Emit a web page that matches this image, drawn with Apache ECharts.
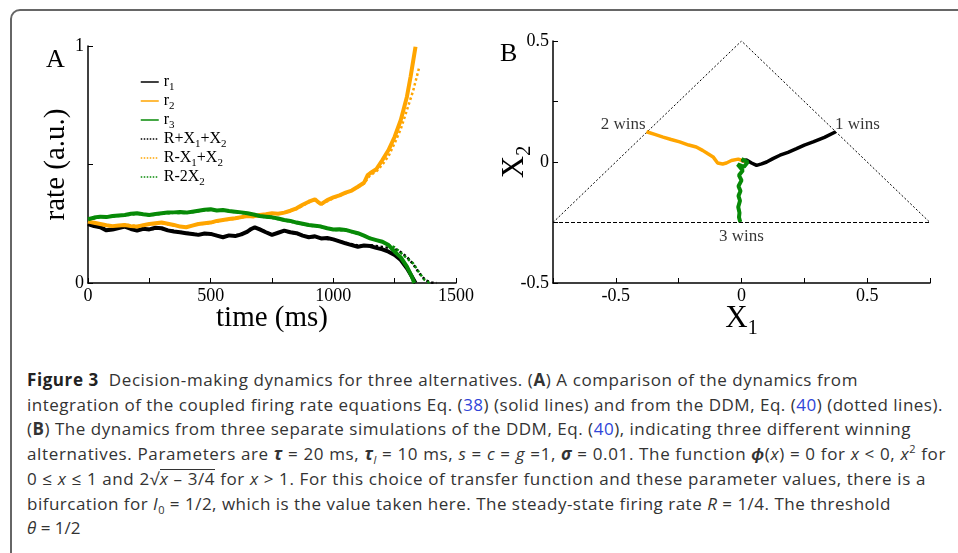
<!DOCTYPE html>
<html lang="en">
<head>
<meta charset="utf-8">
<title>Figure 3</title>
<script src="https://cdn.jsdelivr.net/npm/echarts@6/dist/echarts.min.js"></script>
<style>
  html, body { margin: 0; padding: 0; background: #fff; }
  body { width: 958px; height: 553px; position: relative; overflow: hidden; }
  .card { position: absolute; left: 10px; top: 9px; width: 1000px; height: 600px;
          border: 2px solid #666; border-radius: 10px; box-sizing: border-box; }
  #main { position: absolute; left: 0; top: 0; width: 958px; height: 365px; }
  .caption { position: absolute; left: 27px; top: 368px; font-family: "Open Sans", sans-serif;
             font-size: 17px; line-height: 24.7px; color: #333; }
  .cap-line { display: inline-block; white-space: nowrap; }
  .caption a { color: #2f45d8; text-decoration: none; }
  .caption b.fig { font-weight: 700; color: #222; }
  .caption sub, .caption sup { font-size: 11px; line-height: 0; }
  .sqrt { display: inline-block; line-height: 15px; border-top: 1.3px solid #333; padding-top: 1px; }
</style>
</head>
<body>
<div class="card"></div>
<div id="main"></div>
<div class="caption">
  <span class="cap-line"><b class="fig">Figure 3</b>&nbsp; Decision-making dynamics for three alternatives. (<b>A</b>) A comparison of the dynamics from</span><br>
  <span class="cap-line">integration of the coupled firing rate equations Eq. (<a>38</a>) (solid lines) and from the DDM, Eq. (<a>40</a>) (dotted lines).</span><br>
  <span class="cap-line">(<b>B</b>) The dynamics from three separate simulations of the DDM, Eq. (<a>40</a>), indicating three different winning</span><br>
  <span class="cap-line">alternatives. Parameters are <b><i>τ</i></b> = 20 ms, <b><i>τ</i></b><sub><i>l</i></sub> = 10 ms, <i>s</i> = <i>c</i> = <i>g</i> =1, <b><i>σ</i></b> = 0.01. The function <b><i>ϕ</i></b>(<i>x</i>) = 0 for <i>x</i> &lt; 0, <i>x</i><sup>2</sup> for</span><br>
  <span class="cap-line">0 ≤ <i>x</i> ≤ 1 and 2√<span class="sqrt"><i>x</i> – 3/4</span> for <i>x</i> &gt; 1. For this choice of transfer function and these parameter values, there is a</span><br>
  <span class="cap-line">bifurcation for <i>I</i><sub>0</sub> = 1/2, which is the value taken here. The steady-state firing rate <i>R</i> = 1/4. The threshold</span><br>
  <span class="cap-line"><i>θ</i> = 1/2</span>
</div>

<script type="text/javascript">
  // ---- panel A : rates vs time, [t (ms), rate] ----
  const r1Solid = [[0,0.249],[25,0.24],[50,0.235],[75,0.222],[100,0.226],[125,0.232],[150,0.238],[175,0.228],
    [200,0.221],[225,0.229],[250,0.226],[275,0.233],[300,0.231],[325,0.222],[350,0.217],[375,0.214],[400,0.21],
    [425,0.207],[450,0.203],[475,0.209],[500,0.207],[525,0.2],[550,0.193],[575,0.201],[600,0.198],[625,0.205],
    [650,0.217],[665,0.228],[680,0.235],[700,0.226],[725,0.214],[750,0.203],[775,0.212],[800,0.221],[825,0.214],
    [850,0.21],[875,0.2],[900,0.193],[925,0.197],[950,0.188],[975,0.19],[1000,0.184],[1025,0.176],[1050,0.167],
    [1075,0.16],[1100,0.153],[1125,0.158],[1150,0.156],[1175,0.148],[1200,0.142],[1225,0.132],[1250,0.118],
    [1275,0.097],[1300,0.062],[1320,0.027],[1335,0]];
  const r2Solid = [[0,0.259],[25,0.254],[50,0.249],[75,0.244],[100,0.24],[125,0.243],[150,0.245],[175,0.24],
    [200,0.238],[225,0.244],[250,0.249],[275,0.252],[300,0.255],[325,0.25],[350,0.245],[375,0.238],[400,0.235],
    [425,0.242],[450,0.249],[475,0.252],[500,0.255],[525,0.262],[550,0.266],[575,0.27],[600,0.273],[625,0.278],
    [650,0.283],[675,0.281],[700,0.287],[725,0.29],[750,0.294],[775,0.292],[800,0.297],[825,0.305],[850,0.315],
    [875,0.33],[900,0.343],[925,0.353],[940,0.34],[950,0.333],[975,0.35],[1000,0.361],[1025,0.37],[1050,0.381],
    [1075,0.39],[1100,0.406],[1125,0.423],[1140,0.455],[1150,0.463],[1175,0.48],[1200,0.519],[1225,0.561],
    [1250,0.617],[1275,0.688],[1300,0.786],[1315,0.871],[1325,0.934],[1335,0.997]];
  const r3Solid = [[0,0.269],[25,0.276],[50,0.28],[75,0.278],[100,0.283],[125,0.285],[150,0.287],[175,0.292],
    [200,0.294],[225,0.29],[250,0.287],[275,0.291],[300,0.294],[325,0.297],[350,0.298],[375,0.3],[400,0.297],
    [425,0.301],[450,0.305],[475,0.309],[500,0.311],[525,0.306],[550,0.308],[575,0.304],[600,0.301],[625,0.298],
    [650,0.294],[675,0.289],[700,0.283],[725,0.28],[750,0.277],[775,0.272],[800,0.266],[825,0.262],[850,0.255],
    [875,0.25],[900,0.245],[925,0.242],[950,0.238],[975,0.231],[1000,0.226],[1025,0.227],[1050,0.224],[1075,0.217],
    [1100,0.21],[1125,0.2],[1150,0.188],[1175,0.181],[1200,0.174],[1225,0.16],[1250,0.132],[1275,0.108],
    [1300,0.069],[1320,0.027],[1330,0]];

  // DDM (dotted) curves
  const r1Ddm = [[0,0.252],[25,0.244],[50,0.238],[75,0.226],[100,0.229],[150,0.236],[200,0.224],[250,0.228],
    [300,0.229],[350,0.219],[400,0.212],[450,0.205],[500,0.208],[550,0.195],[600,0.2],[650,0.215],[680,0.233],
    [700,0.228],[750,0.205],[800,0.219],[850,0.208],[900,0.195],[950,0.19],[1000,0.182],[1050,0.17],[1100,0.158],
    [1150,0.16],[1200,0.152],[1250,0.145],[1275,0.13],[1300,0.11],[1325,0.08],[1350,0.042],[1375,0.012],
    [1400,0.002],[1420,0]];
  const r2Ddm = [[0,0.256],[50,0.246],[100,0.238],[150,0.247],[200,0.24],[250,0.247],[300,0.252],[350,0.243],
    [400,0.237],[450,0.247],[500,0.253],[550,0.264],[600,0.271],[650,0.281],[700,0.285],[750,0.292],[800,0.295],
    [850,0.312],[900,0.34],[925,0.35],[950,0.331],[1000,0.358],[1050,0.378],[1100,0.403],[1125,0.42],
    [1150,0.455],[1175,0.47],[1200,0.5],[1225,0.535],[1250,0.59],[1275,0.65],[1300,0.73],[1325,0.81],
    [1340,0.87],[1350,0.91]];
  const r3Ddm = [[0,0.266],[50,0.278],[100,0.281],[150,0.285],[200,0.292],[250,0.285],[300,0.292],[350,0.296],
    [400,0.295],[450,0.303],[500,0.309],[550,0.306],[600,0.299],[650,0.292],[700,0.281],[750,0.275],[800,0.264],
    [850,0.253],[900,0.243],[950,0.236],[1000,0.224],[1050,0.222],[1100,0.208],[1150,0.19],[1200,0.172],
    [1250,0.15],[1275,0.128],[1300,0.104],[1325,0.083],[1350,0.044],[1370,0.015],[1390,0.002],[1400,0]];

  const legendNames = ['r1', 'r2', 'r3', 'R+X1+X2', 'R-X1+X2', 'R-2X2'];
  const legendRich = {
    'r1': '{m|r}{s|1}', 'r2': '{m|r}{s|2}', 'r3': '{m|r}{s|3}',
    'R+X1+X2': '{m|R+X}{s|1}{m|+X}{s|2}',
    'R-X1+X2': '{m|R-X}{s|1}{m|+X}{s|2}',
    'R-2X2': '{m|R-2X}{s|2}'
  };

  // ---- panel B : DDM trajectories, [X1, X2] ----
  const trajWin2 = [[0.02,0.0],[-0.013,0.012],[-0.04,0.006],[-0.06,-0.004],[-0.075,-0.008],[-0.095,-0.004],
    [-0.113,0.021],[-0.135,0.035],[-0.155,0.048],[-0.18,0.062],[-0.21,0.07],[-0.246,0.083],[-0.28,0.093],
    [-0.312,0.103],[-0.345,0.114],[-0.378,0.125]];
  const trajWin1 = [[0.0,0.005],[0.02,0.008],[0.04,-0.004],[0.06,-0.014],[0.08,-0.008],[0.1,0.0],[0.125,0.014],
    [0.153,0.028],[0.185,0.04],[0.219,0.055],[0.25,0.07],[0.285,0.083],[0.33,0.102],[0.375,0.125]];
  const trajWin3 = [[0.0,0.012],[0.025,0.0],[0.01,-0.02],[-0.015,-0.01],[0.005,-0.035],[-0.01,-0.055],
    [0.0,-0.076],[-0.012,-0.1],[-0.004,-0.12],[-0.012,-0.14],[-0.006,-0.16],[-0.013,-0.186],[-0.008,-0.21],
    [-0.01,-0.228],[-0.005,-0.248]];
  const triangleSides = [[-0.75,-0.25],[0,0.5],[0.75,-0.25]];
  const triangleBase = [[-0.75,-0.25],[0.75,-0.25]];
  const winLabels = ['2 wins', '1 wins', '3 wins'];
  const winPoints = [[-0.372,0.155],[0.362,0.155],[0.0,-0.307]];
  const winLabelSide = ['left', 'right', 'inside'];

  const serif = 'Liberation Serif';
  const cOrange = '#ffa500', cGreen = '#078a07', cBlack = '#000';

  function axisCommon(){
    return {
      axisLine: { show: true, onZero: false, lineStyle: { color: '#000', width: 1.5 } },
      axisTick: { show: true, inside: true, length: 5, lineStyle: { color: '#000', width: 1 } },
      splitLine: { show: false },
      axisLabel: { color: '#000', fontFamily: serif, fontSize: 18, margin: 4 },
      nameTextStyle: { color: '#000', fontFamily: serif, fontSize: 29 },
      nameMoveOverlap: false
    };
  }
  function only(values){
    return (v) => values.some((k) => Math.abs(k - v) < 1e-9) ? String(v) : '';
  }

  let Chart = echarts.init(document.getElementById('main'));

  let xA = axisCommon(), yA = axisCommon(), xB = axisCommon(), yB = axisCommon();
  Object.assign(xA, { type: 'value', gridIndex: 0, min: 0, max: 1500, interval: 250,
    name: 'time (ms)', nameLocation: 'middle', nameGap: 21 });
  xA.axisLabel.formatter = only([0, 500, 1000, 1500]);
  Object.assign(yA, { type: 'value', gridIndex: 0, min: 0, max: 1, interval: 0.5,
    name: 'rate (a.u.)', nameLocation: 'middle', nameGap: 17 });
  yA.axisLabel.formatter = only([0, 1]);
  Object.assign(xB, { type: 'value', gridIndex: 1, min: -0.75, max: 0.75, interval: 0.25,
    name: '{m|X}{s|1}', nameLocation: 'middle', nameGap: 20 });
  xB.axisLabel.formatter = only([-0.5, 0, 0.5]);
  Object.assign(yB, { type: 'value', gridIndex: 1, min: -0.5, max: 0.5, interval: 0.25,
    name: '{m|X}{s|2}', nameLocation: 'middle', nameGap: 26 });
  yB.axisLabel.formatter = only([-0.5, 0, 0.5]);
  const subRich = {
    m: { fontFamily: serif, fontSize: 31, color: '#000', lineHeight: 28, verticalAlign: 'top' },
    s: { fontFamily: serif, fontSize: 20, color: '#000', lineHeight: 20, padding: [16, 0, 0, 0], verticalAlign: 'top' }
  };
  xB.nameTextStyle.rich = subRich;
  yB.nameTextStyle.rich = subRich;

  function lineSeries(name, data, color, width, type, xi){
    return {
      name: name, type: 'line', data: data, xAxisIndex: xi, yAxisIndex: xi,
      symbol: 'none', smooth: false, silent: true,
      lineStyle: { color: color, width: width, type: type },
      itemStyle: { color: color }
    };
  }

  let option = {
    animation: false,
    textStyle: { fontFamily: serif },
    grid: [
      { left: 88, top: 46, width: 368, height: 237, outerBoundsMode: 'none', containLabel: false },
      { left: 553, top: 41, width: 377, height: 242, outerBoundsMode: 'none', containLabel: false }
    ],
    xAxis: [xA, xB],
    yAxis: [yA, yB],
    legend: {
      data: legendNames, orient: 'vertical', left: 135, top: 69,
      itemWidth: 18, itemHeight: 10, itemGap: 0, selectedMode: false,
      lineStyle: { width: 1.5 },
      itemStyle: { opacity: 0 },
      formatter: (name) => legendRich[name],
      textStyle: {
        color: '#000',
        rich: {
          m: { fontFamily: serif, fontSize: 16, color: '#000', lineHeight: 16, verticalAlign: 'top' },
          s: { fontFamily: serif, fontSize: 11, color: '#000', lineHeight: 11, padding: [8, 0, 0, 0], verticalAlign: 'top' }
        }
      }
    },
    graphic: [
      { type: 'text', left: 46, top: 47, style: { text: 'A', font: '26px "Liberation Serif"', fill: '#000' } },
      { type: 'text', left: 500, top: 41, style: { text: 'B', font: '26px "Liberation Serif"', fill: '#000' } }
    ],
    series: [
      lineSeries('R+X1+X2', r1Ddm, cBlack, 2.5, 'dotted', 0),
      lineSeries('R-X1+X2', r2Ddm, cOrange, 2.5, 'dotted', 0),
      lineSeries('R-2X2', r3Ddm, cGreen, 2.5, 'dotted', 0),
      lineSeries('r1', r1Solid, cBlack, 4, 'solid', 0),
      lineSeries('r2', r2Solid, cOrange, 4, 'solid', 0),
      lineSeries('r3', r3Solid, cGreen, 4, 'solid', 0),
      lineSeries('sides', triangleSides, cBlack, 1, [2, 2], 1),
      lineSeries('base', triangleBase, cBlack, 1, [4, 2], 1),
      lineSeries('win2', trajWin2, cOrange, 3.5, 'solid', 1),
      lineSeries('win1', trajWin1, cBlack, 3.5, 'solid', 1),
      lineSeries('win3', trajWin3, cGreen, 4, 'solid', 1),
      {
        name: 'labels', type: 'scatter', xAxisIndex: 1, yAxisIndex: 1, symbolSize: 1, silent: true,
        itemStyle: { color: 'transparent' },
        data: winPoints.map((p, i) => ({
          value: p,
          label: { show: true, formatter: winLabels[i], position: winLabelSide[i], distance: 2,
                   color: '#000', fontFamily: serif, fontSize: 17 }
        }))
      }
    ]
  };

  Chart.setOption(option);

  // fit caption lines to their original widths
  const captionRight = [858, 943, 911, 946, 926, 891];
  document.querySelectorAll('.cap-line').forEach((el, i) => {
    if (i >= captionRight.length) return;
    const w = el.getBoundingClientRect().width;
    const n = el.textContent.length;
    el.style.letterSpacing = ((captionRight[i] - 27 - w) / n) + 'px';
  });
</script>
</body>
</html>
